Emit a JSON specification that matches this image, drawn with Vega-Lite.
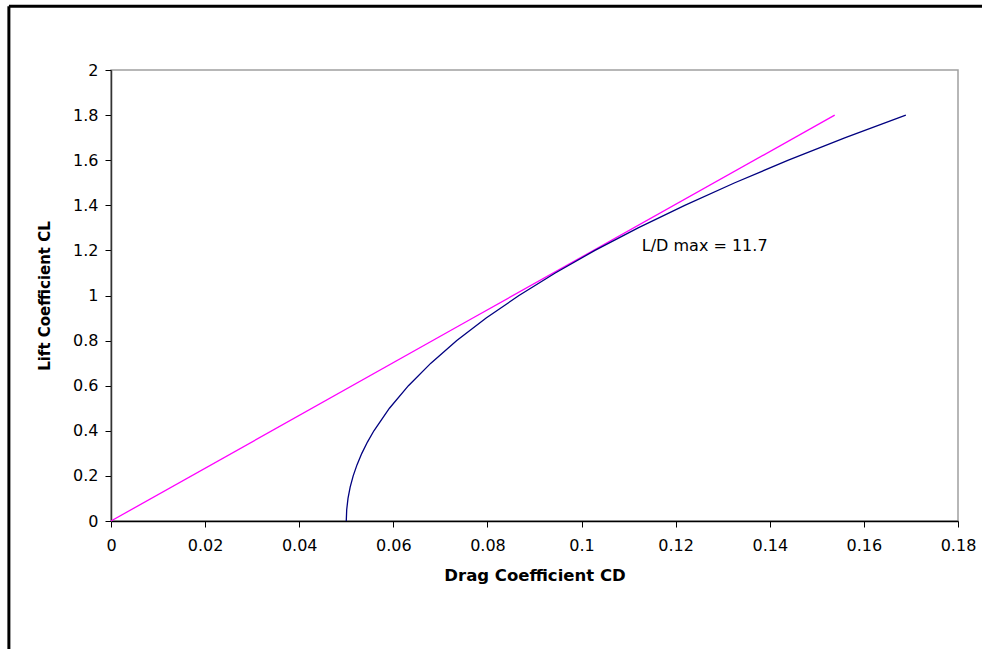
{
  "$schema": "https://vega.github.io/schema/vega-lite/v6.json",
  "width": 847,
  "height": 451,
  "autosize": "none",
  "padding": {"left": 111, "top": 70, "right": 24, "bottom": 128},
  "background": "white",
  "config": {
    "view": {"stroke": "#a0a0a0", "strokeWidth": 1.5},
    "font": "DejaVu Sans",
    "axis": {"grid": false, "labelFont": "DejaVu Sans", "labelFontSize": 16, "labelColor": "#000", "titleFont": "DejaVu Sans", "titleFontSize": 15, "titleColor": "#000", "titleFontWeight": "bold", "domainColor": "#000", "tickColor": "#000", "tickSize": 6, "domainWidth": 1.5, "format": "~g"}
  },
  "datasets": {
    "polar": [
      {"cd": 0.05, "cl": 0.0},
      {"cd": 0.05009, "cl": 0.05},
      {"cd": 0.050367, "cl": 0.1},
      {"cd": 0.050826, "cl": 0.15},
      {"cd": 0.051468, "cl": 0.2},
      {"cd": 0.052294, "cl": 0.25},
      {"cd": 0.053303, "cl": 0.3},
      {"cd": 0.054496, "cl": 0.35},
      {"cd": 0.055872, "cl": 0.4},
      {"cd": 0.059175, "cl": 0.5},
      {"cd": 0.063212, "cl": 0.6},
      {"cd": 0.067983, "cl": 0.7},
      {"cd": 0.073488, "cl": 0.8},
      {"cd": 0.079727, "cl": 0.9},
      {"cd": 0.0867, "cl": 1.0},
      {"cd": 0.094407, "cl": 1.1},
      {"cd": 0.102848, "cl": 1.2},
      {"cd": 0.112023, "cl": 1.3},
      {"cd": 0.121932, "cl": 1.4},
      {"cd": 0.132575, "cl": 1.5},
      {"cd": 0.143952, "cl": 1.6},
      {"cd": 0.156063, "cl": 1.7},
      {"cd": 0.168908, "cl": 1.8}
    ],
    "tangent": [
      {"cd": 0.0, "cl": 0.0},
      {"cd": 0.0769, "cl": 0.9},
      {"cd": 0.1538, "cl": 1.8}
    ],
    "note": [
      {"cd": 0.1128, "cl": 1.22, "text": "L/D max = 11.7"}
    ],
    "frame": [
      {"x0": -0.0217, "x1": 0.186, "y0": 2.283, "y1": -0.57}
    ]
  },
  "layer": [
    {
      "data": {"name": "tangent"},
      "mark": {"type": "line", "color": "#ff00ff", "strokeWidth": 1.3},
      "encoding": {
        "x": {"field": "cd", "type": "quantitative", "scale": {"domain": [0, 0.18]}, "axis": {"values": [0, 0.02, 0.04, 0.06, 0.08, 0.1, 0.12, 0.14, 0.16, 0.18], "title": "Drag Coefficient CD", "titleFontSize": 16.5, "titlePadding": 14, "labelPadding": 10, "labelFlush": false}},
        "y": {"field": "cl", "type": "quantitative", "scale": {"domain": [0, 2]}, "axis": {"values": [0, 0.2, 0.4, 0.6, 0.8, 1, 1.2, 1.4, 1.6, 1.8, 2], "title": "Lift Coefficient CL", "titlePadding": 20, "labelPadding": 7, "domainColor": "#333"}}
      }
    },
    {
      "data": {"name": "polar"},
      "mark": {"type": "line", "color": "#000080", "strokeWidth": 1.3},
      "encoding": {
        "x": {"field": "cd", "type": "quantitative"},
        "y": {"field": "cl", "type": "quantitative"},
        "order": {"field": "cl"}
      }
    },
    {
      "data": {"name": "note"},
      "mark": {"type": "text", "align": "left", "baseline": "middle", "fontSize": 16, "font": "DejaVu Sans", "color": "#000"},
      "encoding": {
        "x": {"field": "cd", "type": "quantitative"},
        "y": {"field": "cl", "type": "quantitative"},
        "text": {"field": "text"}
      }
    },
    {
      "data": {"name": "frame"},
      "mark": {"type": "rule", "color": "#000", "strokeWidth": 3, "clip": false},
      "encoding": {
        "x": {"field": "x0", "type": "quantitative"},
        "x2": {"field": "x1"},
        "y": {"field": "y0", "type": "quantitative"}
      }
    },
    {
      "data": {"name": "frame"},
      "mark": {"type": "rule", "color": "#000", "strokeWidth": 3, "clip": false},
      "encoding": {
        "x": {"field": "x0", "type": "quantitative"},
        "y": {"field": "y0", "type": "quantitative"},
        "y2": {"field": "y1"}
      }
    }
  ]
}
